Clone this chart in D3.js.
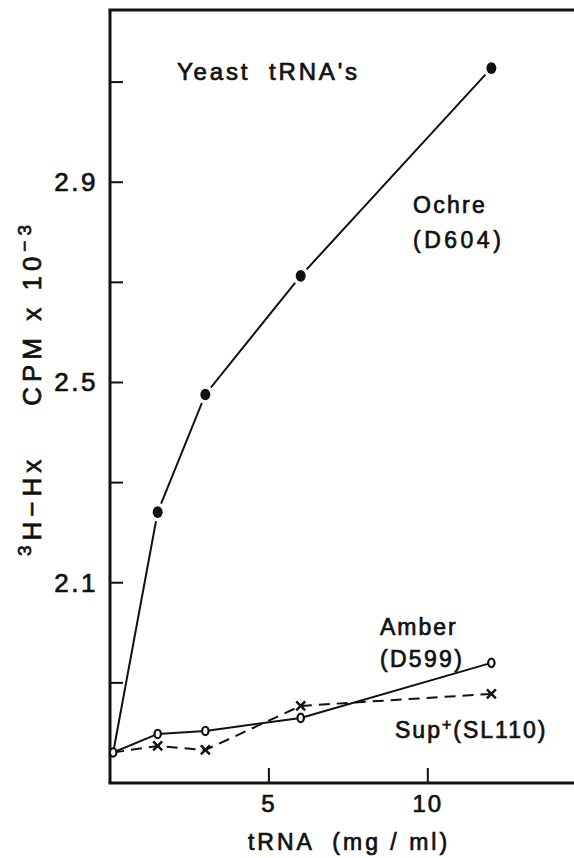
<!DOCTYPE html>
<html lang="en">
<head>
<meta charset="utf-8">
<script src="https://d3js.org/d3.v7.min.js"></script>
<style type="text/css">
body {
	margin: 0;
	background-color: #fff;
}
/* lettering is heavier than plain Liberation, so add a thin outline */
svg text {
	font-family: "Liberation Sans", Arial, sans-serif;
	fill: #111;
	stroke: #111;
	stroke-width: 0.7px;
}
</style>
</head>
<body>
<div class="chart"></div>
<script type="text/javascript">
// tRNA concentration (mg/ml)
var conc = [0.1, 1.5, 3, 6, 12];
// 3H-Hx CPM x 10^-3
var ochre = [1.761, 2.241, 2.476, 2.713, 3.128];
var amber = [1.761, 1.798, 1.804, 1.830, 1.940];
var sup = [1.761, 1.774, 1.766, 1.854, 1.878];

var yTicks = [1.9, 2.1, 2.3, 2.5, 2.7, 2.9, 3.1];
var yLabels = [2.1, 2.5, 2.9];
var xTicks = [5, 10];

var width = 574, height = 858;

var x = d3.scaleLinear().domain([0, 14.6]).range([110, 574]);
var y = d3.scaleLinear().domain([1.7, 3.244]).range([783, 10]);

var svg = d3.select(".chart")
	.append("svg")
	.attr("width", width)
	.attr("height", height);

// frame: left axis, top line, bottom axis (no right edge)
svg.append("line")
	.attr("x1", x(0)).attr("x2", x(0))
	.attr("y1", y.range()[1]).attr("y2", y.range()[0])
	.style("stroke", "#111").style("stroke-width", 3);
svg.append("line")
	.attr("x1", x(0) - 1.5).attr("x2", width)
	.attr("y1", y.range()[1]).attr("y2", y.range()[1])
	.style("stroke", "#111").style("stroke-width", 3);
svg.append("line")
	.attr("x1", x(0) - 1.5).attr("x2", width)
	.attr("y1", y.range()[0]).attr("y2", y.range()[0])
	.style("stroke", "#111").style("stroke-width", 3);

// y ticks point inward
svg.append("g").selectAll("line")
	.data(yTicks)
	.enter()
	.append("line")
	.attr("x1", x(0)).attr("x2", x(0) + 13)
	.attr("y1", function(d) { return y(d); })
	.attr("y2", function(d) { return y(d); })
	.style("stroke", "#111").style("stroke-width", 2);

svg.append("g").selectAll("text")
	.data(yLabels)
	.enter()
	.append("text")
	.attr("x", x(0) - 12)
	.attr("y", function(d) { return y(d) + 9; })
	.attr("text-anchor", "end")
	.style("font-size", "26px")
	.style("letter-spacing", "2.5px")
	.text(function(d) { return d3.format(".1f")(d); });

// x ticks point up
svg.append("g").selectAll("line")
	.data(xTicks)
	.enter()
	.append("line")
	.attr("x1", function(d) { return x(d); })
	.attr("x2", function(d) { return x(d); })
	.attr("y1", y.range()[0]).attr("y2", y.range()[0] - 15)
	.style("stroke", "#111").style("stroke-width", 2);

svg.append("g").selectAll("text")
	.data(xTicks)
	.enter()
	.append("text")
	.attr("x", function(d) { return x(d); })
	.attr("y", 812)
	.attr("text-anchor", "middle")
	.style("font-size", "24px")
	.style("letter-spacing", "2px")
	.text(function(d) { return d; });

// axis titles
svg.append("text")
	.attr("x", 349)
	.attr("y", 850)
	.attr("text-anchor", "middle")
	.attr("xml:space", "preserve")
	.style("font-size", "23px")
	.style("letter-spacing", "3px")
	.text("tRNA  (mg / ml)");

var ylab = svg.append("text")
	.attr("transform", "translate(41,388) rotate(-90)")
	.attr("text-anchor", "middle")
	.attr("xml:space", "preserve")
	.style("font-size", "26px")
	.style("letter-spacing", "5px");
ylab.append("tspan").attr("baseline-shift", "super").style("font-size", "19px").text("3");
ylab.append("tspan").text("H\u2212Hx    CPM x 10");
ylab.append("tspan").attr("baseline-shift", "super").style("font-size", "19px").text("\u22123");

// series lines
var line = d3.line()
	.x(function(d) { return x(d[0]); })
	.y(function(d) { return y(d[1]); });

function pairs(vals) {
	return conc.map(function(c, i) { return [c, vals[i]]; });
}

svg.append("path")
	.datum(pairs(ochre))
	.attr("d", line)
	.style("fill", "none").style("stroke", "#111").style("stroke-width", 2);
svg.append("path")
	.datum(pairs(amber))
	.attr("d", line)
	.style("fill", "none").style("stroke", "#111").style("stroke-width", 2);
svg.append("path")
	.datum(pairs(sup))
	.attr("d", line)
	.style("fill", "none").style("stroke", "#111").style("stroke-width", 2)
	.style("stroke-dasharray", "11,7");

// markers with white halo (painted under the fill) so lines break at each point
svg.append("g").selectAll("ellipse")
	.data(pairs(ochre).slice(1))
	.enter()
	.append("ellipse")
	.attr("cx", function(d) { return x(d[0]); })
	.attr("cy", function(d) { return y(d[1]); })
	.attr("rx", 5).attr("ry", 5.8)
	.style("fill", "#111").style("stroke", "#fff").style("stroke-width", 7)
	.style("paint-order", "stroke");

svg.append("g").selectAll("ellipse")
	.data(pairs(amber))
	.enter()
	.append("ellipse")
	.attr("cx", function(d) { return x(d[0]); })
	.attr("cy", function(d) { return y(d[1]); })
	.attr("rx", 3.2).attr("ry", 4.2)
	.style("fill", "#fff").style("stroke", "#111").style("stroke-width", 2.2);

svg.append("g").selectAll("path")
	.data(pairs(sup).slice(1))
	.enter()
	.append("path")
	.attr("d", function(d) {
		var cx = x(d[0]), cy = y(d[1]), s = 4.5;
		return "M" + (cx - s) + "," + (cy - s) + "L" + (cx + s) + "," + (cy + s) +
			"M" + (cx + s) + "," + (cy - s) + "L" + (cx - s) + "," + (cy + s);
	})
	.style("stroke", "#111").style("stroke-width", 2.5);

// annotations
function label(tx, ty, str, size, sp) {
	return svg.append("text")
		.attr("x", tx).attr("y", ty)
		.attr("xml:space", "preserve")
		.style("font-size", size + "px")
		.style("letter-spacing", sp + "px")
		.text(str);
}
label(177, 80, "Yeast  tRNA's", 24, 2.8);
label(413, 213, "Ochre", 23, 2.3);
label(413, 248, "(D604)", 23, 3.5);
label(380, 635, "Amber", 23, 2);
label(380, 667, "(D599)", 23, 2.3);
var s = label(395, 738, "Sup", 23, 2);
s.append("tspan").attr("baseline-shift", "super").style("font-size", "16px").text("+");
s.append("tspan").text("(SL110)");
</script>
</body>
</html>
